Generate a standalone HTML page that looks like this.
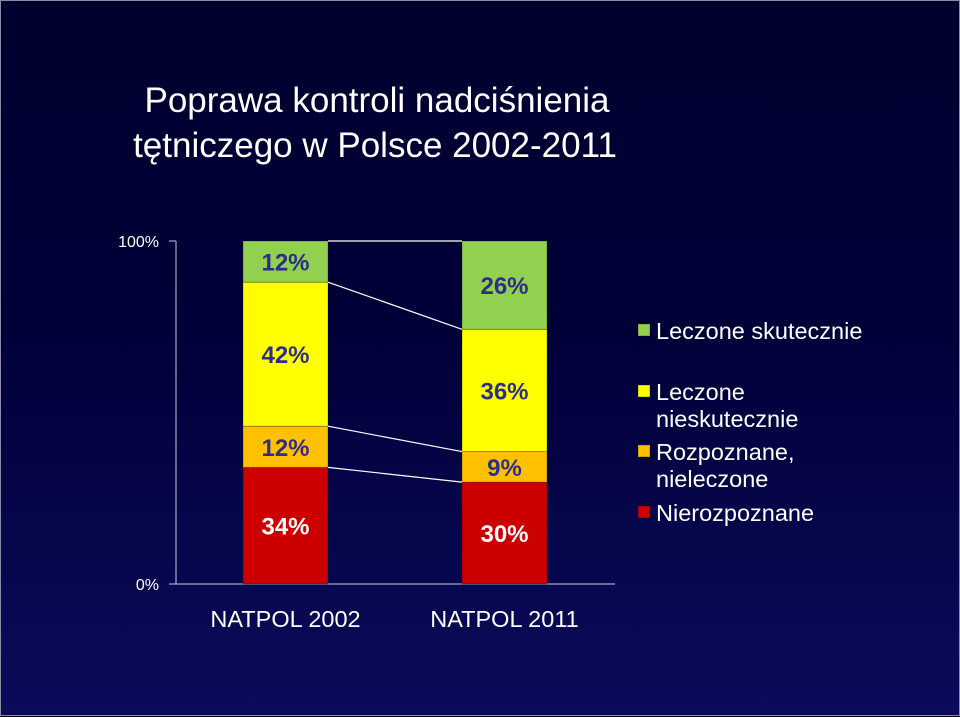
<!DOCTYPE html>
<html><head><meta charset="utf-8"><style>
body{margin:0;width:960px;height:716px;overflow:hidden;background:#000;}
#slide{position:absolute;left:0;top:0;width:958px;height:714px;border:1px solid #8a8aa8;background:linear-gradient(#00002e 0%,#000038 45%,#0b0b5c 100%);font-family:"Liberation Sans",sans-serif;}
.title{position:absolute;text-align:center;color:#fff;font-size:35px;white-space:nowrap;}
</style></head><body>
<div id="slide">
<div class="title" style="top:80px;left:76px;width:600px;">Poprawa kontroli nadciśnienia</div>
<div class="title" style="top:125px;left:74px;width:600px;">tętniczego w Polsce 2002-2011</div>
<svg id="chart" width="960" height="716" style="position:absolute;left:0;top:0" font-family="Liberation Sans, sans-serif"></svg>
</div>
<script>
const categories=["NATPOL 2002","NATPOL 2011"];
const seriesNames=["Nierozpoznane","Rozpoznane, nieleczone","Leczone nieskutecznie","Leczone skutecznie"];
const nierozpoznane=[34,30];
const rozpoznane=[12,9];
const nieskutecznie=[42,36];
const skutecznie=[12,26];
const yTicks=["0%","100%"];
const colors=["#cc0000","#ffc000","#ffff00","#92d050"];
const labelColors=["#ffffff","#2e2e8a","#2e2e8a","#2e2e8a"];
const NS="http://www.w3.org/2000/svg";
const svg=document.getElementById('chart');
const y0=583,y1=240,barX=[242,461],barW=85;
function yScale(f){return y0-(y0-y1)*f;}
function mk(t,a){const e=document.createElementNS(NS,t);for(const k in a)e.setAttribute(k,a[k]);svg.appendChild(e);return e;}
let ax=mk('line',{x1:175,y1:240,x2:175,y2:583,stroke:'#c8c8e0','stroke-width':1});


let xa=mk('line',{x1:168,y1:583,x2:614,y2:583,stroke:'#c8c8e0','stroke-width':1});


[[168,240],[168,583]].forEach(p=>{mk('line',{x1:p[0],y1:p[1],x2:175,y2:p[1],stroke:'#c8c8e0'});});
yTicks.forEach((t,i)=>{const e=mk('text',{x:158,y:(i==0?y0:y1)+6,fill:'#fff','font-size':16,'text-anchor':'end'});e.textContent=t;

});
const series=[nierozpoznane,rozpoznane,nieskutecznie,skutecznie];
const bounds=[[],[]];
categories.forEach((c,ci)=>{
 let tot=series.reduce((s,a)=>s+a[ci],0),acc=0;
 bounds[ci].push(yScale(0));
 series.forEach((s,si)=>{
  const ya=yScale(acc/tot),yb=yScale((acc+s[ci])/tot);acc+=s[ci];
  bounds[ci].push(yb);
  const r=mk('rect',{x:barX[ci],y:yb,width:barW,height:ya-yb,fill:colors[si],stroke:'rgba(0,0,0,0.25)','stroke-width':1});
  
  
  const t=mk('text',{x:barX[ci]+barW/2,y:(ya+yb)/2+9,fill:labelColors[si],'font-size':24,'font-weight':'bold','text-anchor':'middle'});
  t.textContent=s[ci]+'%';
  
  
 });
 const cl=mk('text',{x:barX[ci]+barW/2,y:626,fill:'#fff','font-size':23.5,'text-anchor':'middle'});
 cl.textContent=c;
 
 
});
for(let k=1;k<=4;k++){
 const l=mk('line',{x1:barX[0]+barW,y1:bounds[0][k],x2:barX[1],y2:bounds[1][k],stroke:'#fff','stroke-width':1.2});
 
 
}
const legend=[[3,["Leczone skutecznie"],338],[2,["Leczone","nieskutecznie"],399],[1,["Rozpoznane,","nieleczone"],459],[0,["Nierozpoznane"],520]];
legend.forEach(([si,lines,y])=>{
 const r=mk('rect',{x:637,y:y-15,width:12,height:12,fill:colors[si],stroke:'rgba(0,0,0,0.3)'});
 
 
 lines.forEach((ln,i)=>{const t=mk('text',{x:655,y:y+i*27,fill:'#fff','font-size':23.5});t.textContent=ln;
 
 });
});
</script>
</body></html>
